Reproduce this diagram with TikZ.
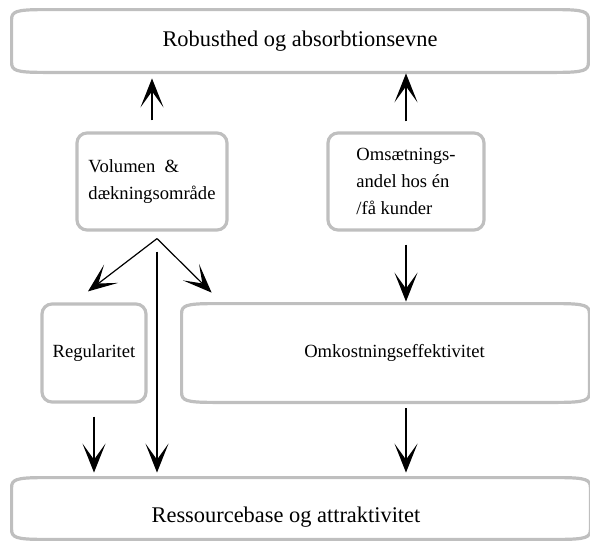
\documentclass[tikz,border=0pt]{standalone}
\usepackage{fontspec}
\setmainfont{Liberation Serif}
\usetikzlibrary{arrows.meta}

\tikzset{
  rim/.style={draw=gray!50, line width=1.6pt},
  smallbox/.style={rim, rounded corners=5pt, align=left, inner sep=0pt, font=\fontsize{9.3}{13.5}\selectfont},
  bigbox/.style={inner sep=0pt},
  bigtext/.style={font=\fontsize{11.2}{13}\selectfont},
  arr/.style={-{Stealth[length=14.5pt, width=11.5pt, inset=8pt]}, line width=0.6pt},
}

% wide box with flat corners
\newcommand{\barrel}[1]{%
  \draw[rim] ([yshift=-5pt]#1.north west) .. controls ([yshift=-1pt]#1.north west) and ([xshift=2pt]#1.north west) .. ([xshift=16pt]#1.north west)
    -- ([xshift=-16pt]#1.north east) .. controls ([xshift=-2pt]#1.north east) and ([yshift=-1pt]#1.north east) .. ([yshift=-5pt]#1.north east)
    -- ([yshift=5pt]#1.south east) .. controls ([yshift=1pt]#1.south east) and ([xshift=-2pt]#1.south east) .. ([xshift=-16pt]#1.south east)
    -- ([xshift=16pt]#1.south west) .. controls ([xshift=2pt]#1.south west) and ([yshift=1pt]#1.south west) .. ([yshift=5pt]#1.south west) -- cycle;}

\begin{document}
\begin{tikzpicture}
\begin{scope}[x=0.5pt, y=-0.5pt]
\useasboundingbox (0,0) rectangle (590,541);

\node[bigbox, bigtext, minimum width=288pt, minimum height=31pt] (top) at (300,41) {Robusthed og absorbtionsevne};
\barrel{top}

\node[smallbox, minimum width=75pt, minimum height=48.5pt] (vol) at (152,181.5) {Volumen \ \&\\dækningsområde};
\node[smallbox, minimum width=78pt, minimum height=48.5pt] (oms) at (406,181.5) {Omsætnings-\\andel hos én\\/få kunder};

\node[smallbox, minimum width=52pt, minimum height=49pt] (reg) at (94,353) {Regularitet};
\node[bigbox, minimum width=203.5pt, minimum height=49pt,
  label={[bigtext, font=\fontsize{9.3}{13.5}\selectfont, xshift=4.5pt]center:Omkostningseffektivitet}] (omk) at (385.5,353) {};
\barrel{omk}

\node[bigbox, minimum width=289pt, minimum height=30.5pt,
  label={[bigtext, xshift=-7.5pt, yshift=-4.5pt]center:Ressourcebase og attraktivitet}] (bot) at (301,508.5) {};
\barrel{bot}

%\draw (vol.south) -- (bot.north);
\draw[arr, shorten <=5.5pt, shorten >=3pt] (vol.north) -- (vol.north |- top.south);
\draw[arr, shorten <=5pt, shorten >=0.5pt] (oms.north) -- (oms.north |- top.south);
\draw[arr, shorten <=6.5pt, shorten >=1pt] (oms.south) -- (oms.south |- omk.north);

\coordinate (split) at ([xshift=2.5pt, yshift=-3.5pt]vol.south);
\draw[arr] (split) -- ([xshift=-3pt, yshift=5.5pt]reg.north);
\draw[arr] (split) -- ([xshift=15pt, yshift=5.5pt]omk.north west);
\draw[arr, shorten <=6.5pt, shorten >=2.5pt] (split) -- (split |- bot.north);

\draw[arr, shorten <=6.5pt, shorten >=2.5pt] (reg.south) -- (reg.south |- bot.north);
\draw[arr, shorten <=3pt, shorten >=2.5pt] (oms.south |- omk.south) -- (oms.south |- bot.north);

\end{scope}
\end{tikzpicture}
\end{document}
